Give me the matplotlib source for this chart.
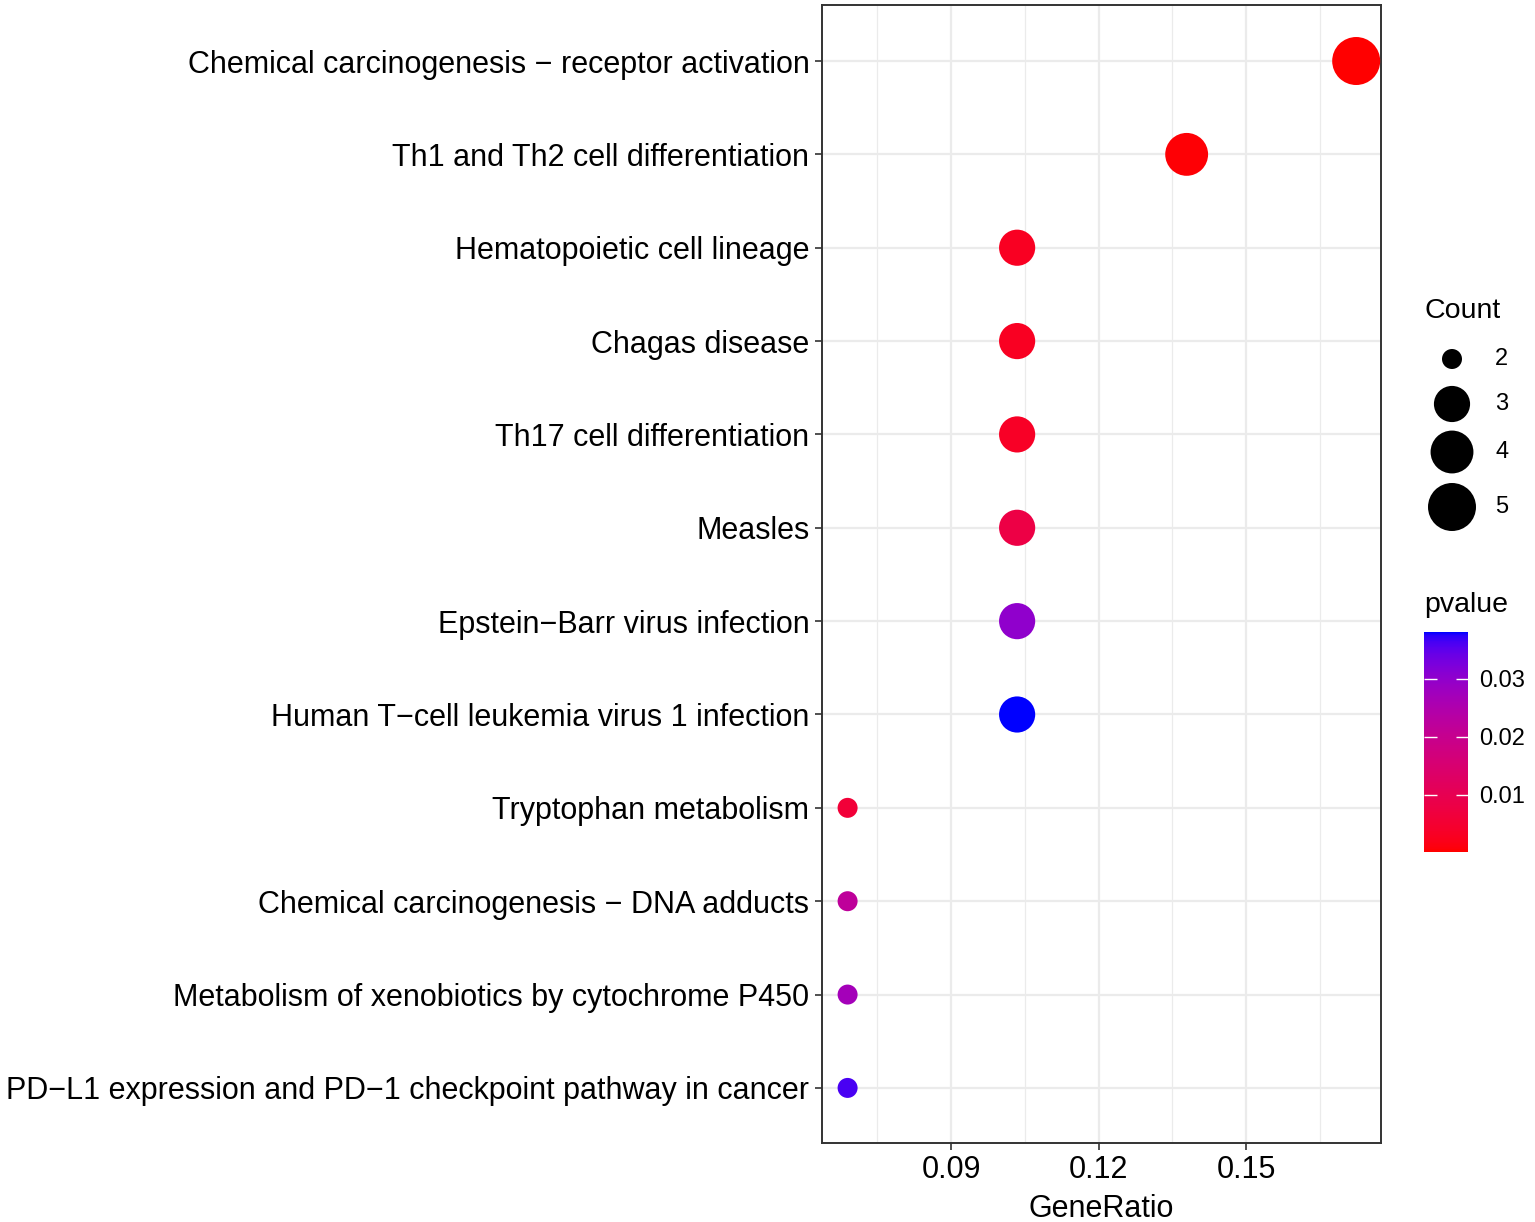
import numpy as np
import matplotlib
matplotlib.use("Agg")
import matplotlib.pyplot as plt
from matplotlib.colors import ListedColormap, Normalize
from matplotlib.cm import ScalarMappable
from matplotlib.ticker import MultipleLocator

plt.rcParams['font.family'] = ['Liberation Sans', 'DejaVu Sans']

# KEGG enrichment results (top to bottom as shown)
pathways = [
    "Chemical carcinogenesis \u2212 receptor activation",
    "Th1 and Th2 cell differentiation",
    "Hematopoietic cell lineage",
    "Chagas disease",
    "Th17 cell differentiation",
    "Measles",
    "Epstein\u2212Barr virus infection",
    "Human T\u2212cell leukemia virus 1 infection",
    "Tryptophan metabolism",
    "Chemical carcinogenesis \u2212 DNA adducts",
    "Metabolism of xenobiotics by cytochrome P450",
    "PD\u2212L1 expression and PD\u22121 checkpoint pathway in cancer",
]
counts = [5, 4, 3, 3, 3, 3, 3, 3, 2, 2, 2, 2]
total_genes = 29
gene_ratio = [c / total_genes for c in counts]
pvalues = [0.00017, 0.0006, 0.003, 0.003, 0.0035, 0.008,
           0.030, 0.0381, 0.006, 0.022, 0.027, 0.0362]


# red -> blue gradient interpolated in Lab space (like ggplot)
def srgb_to_lab(rgb):
    rgb = np.asarray(rgb, float)
    lin = np.where(rgb <= 0.04045, rgb / 12.92, ((rgb + 0.055) / 1.055) ** 2.4)
    m = np.array([[0.4124, 0.3576, 0.1805],
                  [0.2126, 0.7152, 0.0722],
                  [0.0193, 0.1192, 0.9505]])
    xyz = m @ lin / np.array([0.95047, 1.0, 1.08883])
    f = np.where(xyz > 0.008856, np.cbrt(xyz), 7.787 * xyz + 16 / 116)
    return np.array([116 * f[1] - 16, 500 * (f[0] - f[1]), 200 * (f[1] - f[2])])


def lab_to_srgb(lab):
    L, a, b = lab
    fy = (L + 16) / 116
    fx = fy + a / 500
    fz = fy - b / 200
    f = np.array([fx, fy, fz])
    xyz = np.where(f ** 3 > 0.008856, f ** 3, (f - 16 / 116) / 7.787)
    xyz = xyz * np.array([0.95047, 1.0, 1.08883])
    minv = np.array([[3.2406, -1.5372, -0.4986],
                     [-0.9689, 1.8758, 0.0415],
                     [0.0557, -0.2040, 1.0570]])
    lin = minv @ xyz
    lin = np.clip(lin, 0, 1)
    rgb = np.where(lin <= 0.0031308, 12.92 * lin, 1.055 * lin ** (1 / 2.4) - 0.055)
    return np.clip(rgb, 0, 1)


lab_lo = srgb_to_lab([1, 0, 0])
lab_hi = srgb_to_lab([0, 0, 1])
cols = [lab_to_srgb(lab_lo + t * (lab_hi - lab_lo)) for t in np.linspace(0, 1, 256)]
cmap = ListedColormap(cols)
norm = Normalize(vmin=min(pvalues), vmax=max(pvalues))


def size_of(c):
    # ggplot area palette: diameter grows with sqrt of rescaled count
    t = (np.asarray(c, float) - min(counts)) / (max(counts) - min(counts))
    d_px = 20 + 28 * np.sqrt(t)
    return (d_px * 0.72) ** 2


W, H = 1535, 1222
fig = plt.figure(figsize=(W / 100, H / 100), dpi=100)
ax = fig.add_axes([822 / W, 1 - 1143 / H, (1381 - 822) / W, (1143 - 5) / H])

n = len(pathways)
ypos = np.arange(n, 0, -1)
ax.scatter(gene_ratio, ypos, s=size_of(counts), c=pvalues, cmap=cmap, norm=norm,
           edgecolors='none', zorder=3)

ax.set_xlim(0.06376, 0.17746)
ax.set_ylim(0.41, n + 0.6)
ax.xaxis.set_major_locator(MultipleLocator(0.03))
ax.xaxis.set_minor_locator(MultipleLocator(0.015))
ax.set_xticks([0.09, 0.12, 0.15])
ax.set_xticklabels(["0.09", "0.12", "0.15"])
ax.set_yticks(ypos)
ax.set_yticklabels(pathways)
ax.grid(which='major', color='#EBEBEB', linewidth=1.6, zorder=0)
ax.grid(which='minor', axis='x', color='#EBEBEB', linewidth=0.9, zorder=0)
ax.set_axisbelow(True)
ax.tick_params(axis='both', which='major', length=5, width=1.2, color='#333333',
               labelsize=22, labelcolor='black', pad=4)
ax.tick_params(axis='x', which='minor', length=0)
for sp in ax.spines.values():
    sp.set_color('#333333')
    sp.set_linewidth(1.4)
ax.set_xlabel("GeneRatio", fontsize=22, labelpad=6)

# size legend
lax = fig.add_axes([0, 0, 1, 1])
lax.set_xlim(0, W)
lax.set_ylim(H, 0)
lax.axis('off')
lax.text(1424, 311, "Count", fontsize=20.5, va='center', ha='left')
leg_counts = sorted(set(counts))
leg_y = [359, 404, 452, 507]
lax.scatter([1452] * len(leg_counts), leg_y, s=size_of(leg_counts), c='black',
            edgecolors='none')
for c, yy in zip(leg_counts, leg_y):
    lax.text(1495, yy, str(c), fontsize=17, va='center', ha='left')
lax.text(1424, 605, "pvalue", fontsize=20.5, va='center', ha='left')

# colorbar
cax = fig.add_axes([1424 / W, 1 - 852 / H, 44 / W, 220 / H])
sm = ScalarMappable(norm=norm, cmap=cmap)
cb = fig.colorbar(sm, cax=cax)
cb.outline.set_visible(False)
cb.set_ticks([0.01, 0.02, 0.03])
cb.set_ticklabels(["0.01", "0.02", "0.03"])
cax.tick_params(axis='y', direction='in', length=9, width=1, color='white',
                left=True, right=True, labelleft=False, labelright=True,
                labelcolor='black', labelsize=17, pad=8)

fig.savefig("out.png", dpi=100)
